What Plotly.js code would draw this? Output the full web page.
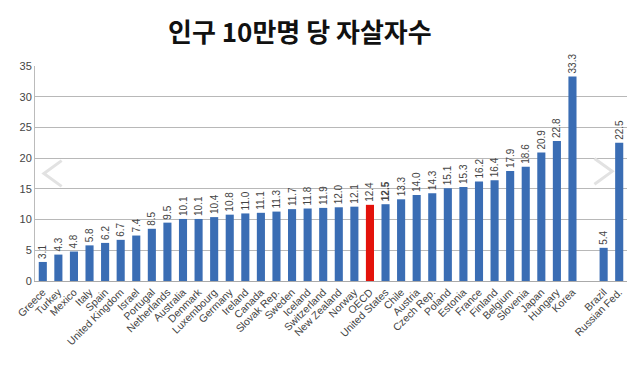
<!DOCTYPE html>
<html><head><meta charset="utf-8">
<script src="https://cdn.plot.ly/plotly-3.0.1.min.js"></script>
<style>body{margin:0;background:#fff}#c{width:638px;height:369px}</style>
</head><body><div id="c"></div>
<script>
var countries = ["Greece","Turkey","Mexico","Italy","Spain","United Kingdom","Israel","Portugal","Netherlands","Australia","Denmark","Luxembourg","Germany","Ireland","Canada","Slovak Rep.","Sweden","Iceland","Switzerland","New Zealand","Norway","OECD","United States","Chile","Austria","Czech Rep.","Poland","Estonia","France","Finland","Belgium","Slovenia","Japan","Hungary","Korea"," ","Brazil","Russian Fed."];
var rates = [3.1,4.3,4.8,5.8,6.2,6.7,7.4,8.5,9.5,10.1,10.1,10.4,10.8,11.0,11.1,11.3,11.7,11.8,11.9,12.0,12.1,12.4,12.5,13.3,14.0,14.3,15.1,15.3,16.2,16.4,17.9,18.6,20.9,22.8,33.3,null,5.4,22.5];
var highlight = "OECD";
var boldLabel = "United States";
var yTicks = [0,5,10,15,20,25,30,35];

var colors = countries.map(function(c){ return c===highlight ? "#e3120b" : "#3a6db4"; });
var texts = rates.map(function(v,i){
  if (v===null) return "";
  var s = v.toFixed(1);
  return countries[i]===boldLabel ? "<b>"+s+"</b>" : s;
});

var trace = {
  type:"bar", x:countries, y:rates, marker:{color:colors},
  text:texts, textposition:"outside", textangle:-90, constraintext:"none",
  cliponaxis:false, textfont:{size:10, color:"#444", family:"Liberation Sans, Arial, sans-serif"},
  width:0.52, hoverinfo:"x+y"
};

var layout = {
  width:638, height:369,
  margin:{l:35, r:11, t:66, b:88},
  paper_bgcolor:"#fff", plot_bgcolor:"#fff",
  title:{text:"<b>인구 10만명 당 자살자수</b>", x:0.47, xanchor:"center", y:0.91, yanchor:"middle",
    font:{size:26, color:"#111", family:"Noto Sans CJK KR, sans-serif"}},
  font:{family:"Liberation Sans, Arial, sans-serif", color:"#444"},
  showlegend:false,
  xaxis:{type:"category", tickangle:-45, tickfont:{size:10.5, color:"#444"},
    showline:true, linecolor:"#aaa", linewidth:1, ticks:"", showgrid:false, automargin:false,
    range:[-0.5, countries.length-0.5]},
  yaxis:{range:[0,35], tickvals:yTicks, tickfont:{size:11, color:"#444"},
    showgrid:true, gridcolor:"#b8b8b8", gridwidth:1, zeroline:false,
    showline:true, linecolor:"#bbb", ticks:"", ticklen:0, automargin:false},
  shapes:[
    {type:"path", xref:"paper", yref:"paper", path:"M 0.045 0.56 L 0.015 0.5 L 0.045 0.44", line:{color:"#e2e2e2", width:3}},
    {type:"path", xref:"paper", yref:"paper", path:"M 0.945 0.57 L 0.975 0.51 L 0.945 0.45", line:{color:"#e2e2e2", width:3}}
  ]
};
Plotly.newPlot("c",[trace],layout,{displayModeBar:false, staticPlot:true});
</script></body></html>
